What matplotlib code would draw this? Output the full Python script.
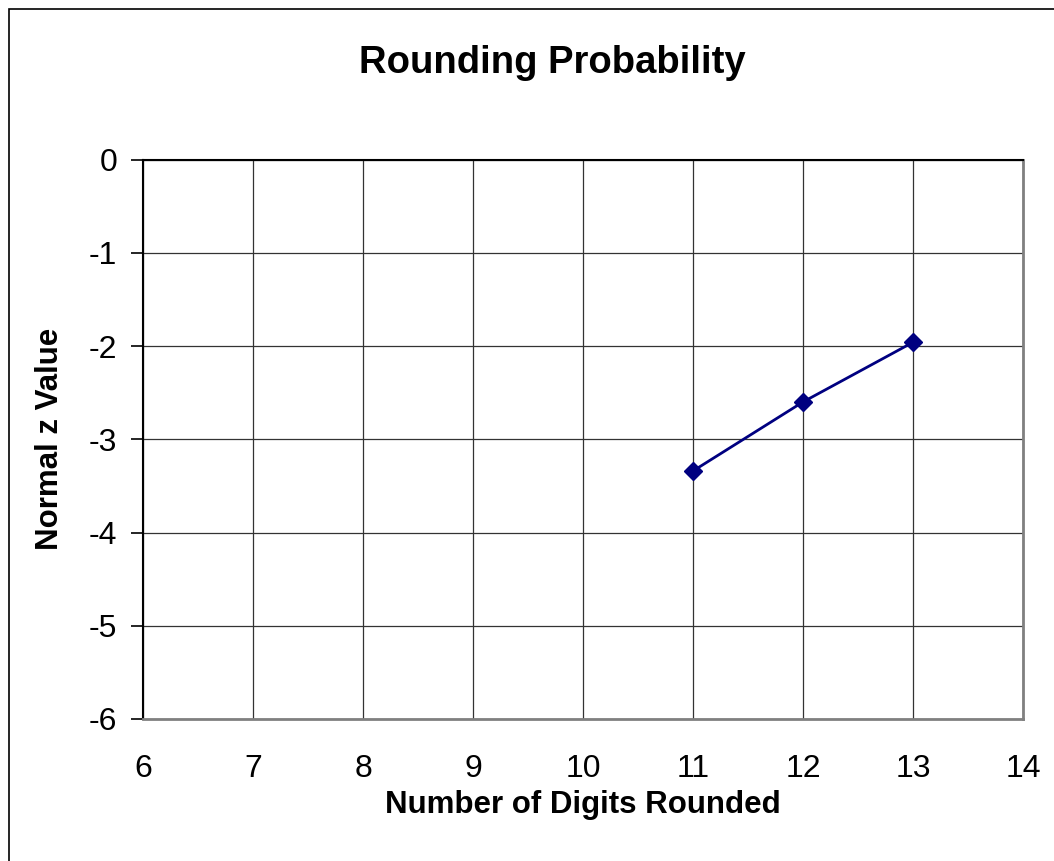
import matplotlib
matplotlib.use("Agg")
import matplotlib.pyplot as plt
from matplotlib.patches import Rectangle

digits = [11, 12, 13]
z_values = [-3.34, -2.60, -1.96]
x_ticks = [6, 7, 8, 9, 10, 11, 12, 13, 14]
y_ticks = [0, -1, -2, -3, -4, -5, -6]

plt.rcParams['font.family'] = ['Liberation Sans', 'DejaVu Sans']

W, H = 1054, 861
fig = plt.figure(figsize=(W / 100, H / 100), dpi=100)
fig.patch.set_facecolor('white')

# outer chart border (extends beyond the image on right/bottom)
fig.add_artist(Rectangle((8.5 / W, -0.1), 1.2, 1 - 8.5 / H + 0.1,
                         transform=fig.transFigure, fill=False,
                         edgecolor='black', linewidth=1.2))

ax = fig.add_axes([143 / W, 1 - 719 / H, (1023 - 143) / W, (719 - 159.5) / H])
ax.plot(digits, z_values, color='#000080', linewidth=2, marker='D',
        markersize=9, markerfacecolor='#000080', markeredgecolor='#000080',
        zorder=3, clip_on=False)

ax.set_xlim(6, 14)
ax.set_ylim(-6, 0)
ax.set_xticks(x_ticks)
ax.set_yticks(y_ticks)
ax.set_xticklabels([str(v) for v in x_ticks], fontsize=23)
ax.set_yticklabels([str(v) for v in y_ticks], fontsize=23)
ax.grid(True, color='#333333', linewidth=0.9)
ax.set_axisbelow(True)

for s in ['right', 'bottom']:
    ax.spines[s].set_color('#808080')
    ax.spines[s].set_linewidth(2)
for s in ['left', 'top']:
    ax.spines[s].set_color('black')
    ax.spines[s].set_linewidth(1.5)

ax.tick_params(axis='y', direction='out', length=8.5, width=1.2, pad=10, color='black')
ax.tick_params(axis='x', length=0, pad=25)

fig.text(552 / W, 1 - 73 / H, 'Rounding Probability', ha='center', va='baseline',
         fontsize=27.5, fontweight='bold')
fig.text(583 / W, 1 - 813 / H, 'Number of Digits Rounded', ha='center', va='baseline',
         fontsize=22.5, fontweight='bold')
fig.text(50 / W, 1 - 439 / H, 'Normal z Value', ha='center', va='center',
         rotation=90, fontsize=22.5, fontweight='bold')

fig.savefig('out.png', dpi=100)
